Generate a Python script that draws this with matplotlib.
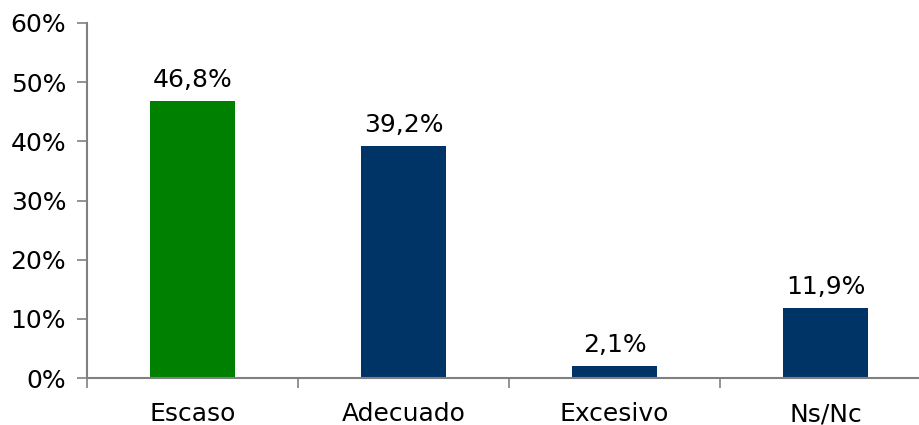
import matplotlib
matplotlib.use("Agg")
import matplotlib.pyplot as plt
from matplotlib.ticker import FixedLocator, NullFormatter

categories = ["Escaso", "Adecuado", "Excesivo", "Ns/Nc"]
values = [46.8, 39.2, 2.1, 11.9]
labels = ["46,8%", "39,2%", "2,1%", "11,9%"]
colors = ["#008000", "#003366", "#003366", "#003366"]
yticks = [0, 10, 20, 30, 40, 50, 60]
ytick_labels = ["0%", "10%", "20%", "30%", "40%", "50%", "60%"]

W, H = 919, 425
FS = 18
fig = plt.figure(figsize=(W / 100, H / 100), dpi=100)
left, right, top, bottom = 87, 931, 23, 378
ax = fig.add_axes([left / W, (H - bottom) / H, (right - left) / W, (bottom - top) / H])

x = list(range(len(categories)))
ax.bar(x, values, width=0.40, color=colors, zorder=2)
for xi, v, lab in zip(x, values, labels):
    ax.annotate(lab, xy=(xi, v), xytext=(0, 10), textcoords="offset points",
                ha="center", va="baseline", fontsize=FS, color="#000000")

ax.set_xlim(-0.5, len(categories) - 0.5)
ax.set_ylim(0, 60)
ax.set_yticks(yticks)
ax.set_yticklabels(ytick_labels, fontsize=FS)
ax.set_xticks(x)
ax.set_xticklabels(categories, fontsize=FS)
for t in ax.get_xticklabels():
    t.set_verticalalignment("baseline")
ax.tick_params(axis="x", which="major", length=0, pad=31)
ax.xaxis.set_minor_locator(FixedLocator([i - 0.5 for i in range(len(categories) + 1)]))
ax.xaxis.set_minor_formatter(NullFormatter())
ax.tick_params(axis="x", which="minor", length=7, width=1.2, color="#808080", direction="out")
ax.tick_params(axis="y", length=7, width=1.2, color="#808080", direction="out", pad=8)

for s in ["top", "right"]:
    ax.spines[s].set_visible(False)
for s in ["left", "bottom"]:
    ax.spines[s].set_color("#808080")
    ax.spines[s].set_linewidth(1.5)

fig.savefig("out.png", dpi=100)
